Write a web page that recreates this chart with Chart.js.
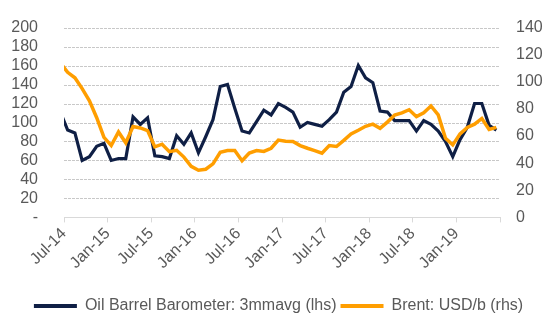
<!DOCTYPE html>
<html>
<head>
<meta charset="utf-8">
<script src="https://cdn.jsdelivr.net/npm/chart.js@4.4.1/dist/chart.umd.min.js"></script>
<style>
  body { margin: 0; background: #fff; }
  canvas { display: block; }
</style>
</head>
<body>
<canvas id="myChart" width="557" height="334"></canvas>
<script>
// monthly, Jun-14 .. Jun-19 (axis starts at Jul-14, so Jun-14 is cut off at the left edge)
var months = ['Jun-14','Jul-14','Aug-14','Sep-14','Oct-14','Nov-14','Dec-14',
  'Jan-15','Feb-15','Mar-15','Apr-15','May-15','Jun-15','Jul-15','Aug-15','Sep-15','Oct-15','Nov-15','Dec-15',
  'Jan-16','Feb-16','Mar-16','Apr-16','May-16','Jun-16','Jul-16','Aug-16','Sep-16','Oct-16','Nov-16','Dec-16',
  'Jan-17','Feb-17','Mar-17','Apr-17','May-17','Jun-17','Jul-17','Aug-17','Sep-17','Oct-17','Nov-17','Dec-17',
  'Jan-18','Feb-18','Mar-18','Apr-18','May-18','Jun-18','Jul-18','Aug-18','Sep-18','Oct-18','Nov-18','Dec-18',
  'Jan-19','Feb-19','Mar-19','Apr-19','May-19','Jun-19'];

var barometer = [111, 92, 89, 60, 64, 75, 78,
  60, 62, 62, 106, 98, 105, 65, 64, 62, 86, 77, 89,
  68, 85, 103, 138, 140, 115, 91, 89, 101, 113, 108, 120,
  116, 111, 95, 100, 98, 96, 103, 111, 132, 138, 160, 147,
  142, 112, 111, 102, 102, 102, 91, 102, 98, 91, 80, 64,
  82, 95, 120, 120, 97, 92];

var brent = [114, 107, 103, 95, 86, 73.5, 59,
  53, 63, 55, 67, 66, 64, 52, 54, 48.5, 49.5, 44.5, 37.7,
  34.8, 35.5, 39.5, 48, 49.3, 49.3, 41.8, 47.5, 49.3, 48.7, 51, 57,
  56.2, 56, 53, 51, 49.3, 47.4, 53, 52.3, 56.8, 61.6, 64.3, 67.2,
  68.8, 65.7, 70.3, 75.5, 77.1, 79.4, 74.3, 77.1, 82.2, 75.6, 58.4, 53.5,
  61.6, 66.4, 68.8, 73, 64.9, 66.4];

var tickLabels = ['Jul-14','Jan-15','Jul-15','Jan-16','Jul-16','Jan-17','Jul-17','Jan-18','Jul-18','Jan-19',''];

// x axis counts months from 1 Jul 2014, points sit mid-month
function toPoints(values) {
  return values.map(function(v, i) { return { x: i - 0.5, y: v }; });
}

var GREY = '#595959';
Chart.defaults.font.family = "'Liberation Sans', Arial, sans-serif";
Chart.defaults.font.size = 16;
Chart.defaults.color = GREY;

// dotted horizontal gridlines at the left axis ticks (skip 0, the x axis sits there)
var dottedGrid = {
  id: 'dottedGrid',
  beforeDatasetsDraw: function(c) {
    var s = c.scales.y, a = c.chartArea, g = c.ctx;
    g.save();
    g.strokeStyle = '#c8c8c8';
    g.lineWidth = 1;
    g.setLineDash([3, 1]);
    s.ticks.forEach(function(t) {
      if (t.value === 0) return;
      var y = Math.round(s.getPixelForValue(t.value)) + 0.5;
      g.beginPath();
      g.moveTo(a.left, y);
      g.lineTo(a.right, y);
      g.stroke();
    });
    g.restore();
  }
};

var ctx = document.getElementById('myChart').getContext('2d');
var chart = new Chart(ctx, {
  type: 'line',
  data: {
    datasets: [
      {
        label: 'Oil Barrel Barometer: 3mmavg (lhs)',
        data: toPoints(barometer),
        yAxisID: 'y',
        borderColor: '#0f1f45',
        backgroundColor: '#0f1f45',
        borderWidth: 3.2,
        pointRadius: 0,
        order: 2,
        clip: { left: 0, top: false, right: false, bottom: false }
      },
      {
        label: 'Brent: USD/b (rhs)',
        data: toPoints(brent),
        yAxisID: 'y1',
        borderColor: '#ff9e00',
        backgroundColor: '#ff9e00',
        borderWidth: 3.5,
        pointRadius: 0,
        order: 1,
        clip: { left: 0, top: false, right: false, bottom: false }
      }
    ]
  },
  plugins: [dottedGrid],
  options: {
    responsive: false,
    animation: false,
    layout: { padding: { left: 0, right: 0, top: 22, bottom: 10 } },
    plugins: {
      tooltip: { enabled: false },
      legend: {
        position: 'bottom',
        labels: {
          usePointStyle: true,
          pointStyle: 'line',
          pointStyleWidth: 43,
          padding: 4,
          color: GREY,
          font: { size: 16 },
          sort: function(a, b) { return a.datasetIndex - b.datasetIndex; },
          generateLabels: function(c) {
            return Chart.defaults.plugins.legend.labels.generateLabels(c).map(function(l) {
              l.lineWidth = 4;
              return l;
            });
          }
        }
      }
    },
    scales: {
      x: {
        type: 'linear',
        min: 0,
        max: 60,
        afterFit: function(scale) { scale.height = 76.6; },
        ticks: {
          stepSize: 6,
          autoSkip: false,
          minRotation: 45,
          maxRotation: 45,
          padding: 2,
          callback: function(v) { return tickLabels[v / 6]; }
        },
        grid: { drawOnChartArea: false, color: '#d9d9d9', tickLength: 5 },
        border: { color: '#d9d9d9', width: 1 }
      },
      y: {
        position: 'left',
        min: 0,
        max: 200,
        afterFit: function(scale) { scale.width = 64; },
        ticks: {
          stepSize: 20,
          autoSkip: false,
          padding: 18,
          callback: function(v) { return v === 0 ? '-' : v; }
        },
        grid: { display: false },
        border: { display: false }
      },
      y1: {
        position: 'right',
        min: 0,
        max: 140,
        afterFit: function(scale) { scale.width = 57; },
        ticks: { stepSize: 20, autoSkip: false, padding: 16 },
        grid: { drawOnChartArea: false, drawTicks: false },
        border: { display: false }
      }
    }
  }
});
</script>
</body>
</html>
